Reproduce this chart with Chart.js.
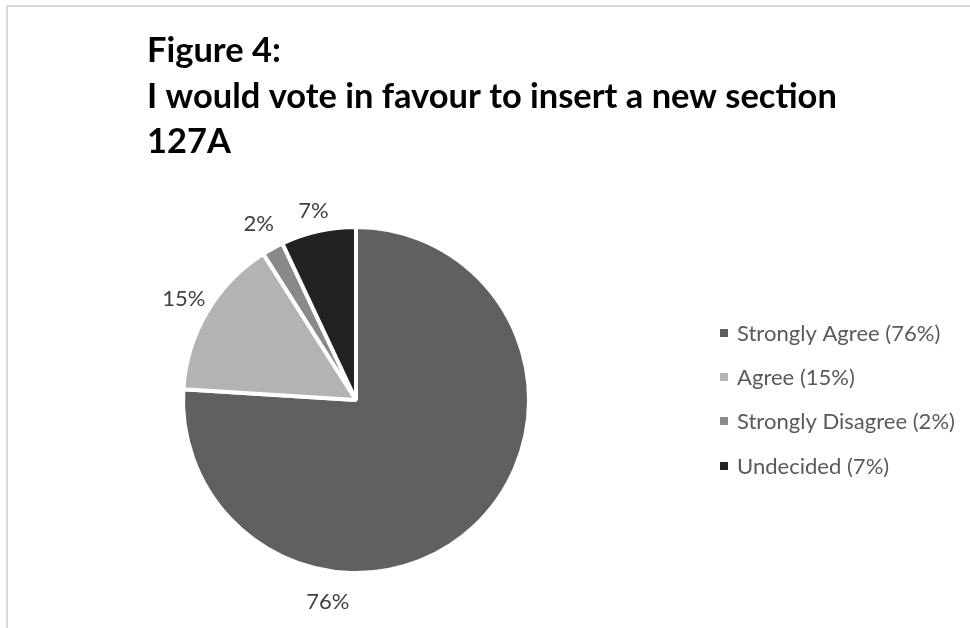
<!DOCTYPE html>
<html>
<head>
<meta charset="utf-8">
<script src="https://cdn.jsdelivr.net/npm/chart.js@4/dist/chart.umd.min.js"></script>
<style>
  html, body { margin:0; padding:0; background:#ffffff; overflow:hidden; }
  #frame { position:absolute; left:6px; top:5px; width:1100px; height:800px; border:2px solid #d9d9d9; box-sizing:border-box; }
  #wrap { position:absolute; left:0; top:0; width:970px; height:628px; }
</style>
</head>
<body>
<div id="frame"></div>
<div id="wrap"><canvas id="c" width="970" height="628"></canvas></div>
<script>
// ---- data ----
const titleLines = ['Figure 4:', 'I would vote in favour to insert a new section', '127A'];
const categories = ['Strongly Agree', 'Agree', 'Strongly Disagree', 'Undecided'];
const values = [76, 15, 2, 7];
const legendLabels = ['Strongly Agree (76%)', 'Agree (15%)', 'Strongly Disagree (2%)', 'Undecided (7%)'];
const sliceLabels = ['76%', '15%', '2%', '7%'];
const colors = ['#606060', '#b3b3b3', '#898989', '#222222'];

function fitSize(ctx, text, weight, family, target) {
  ctx.font = weight + ' 100px ' + family;
  const w = ctx.measureText(text).width;
  return 100 * target / w;
}

const FAMILY = 'Lato, "Open Sans", sans-serif';

const decorPlugin = {
  id: 'decor',
  afterDraw(chart) {
    const ctx = chart.ctx;
    ctx.save();
    // Title
    const tSize = fitSize(ctx, titleLines[1], 'bold', FAMILY, 690);
    ctx.font = 'bold ' + tSize.toFixed(2) + 'px ' + FAMILY;
    ctx.fillStyle = '#000000';
    ctx.textAlign = 'left';
    ctx.textBaseline = 'alphabetic';
    const tBase = [62, 108, 153];
    titleLines.forEach((t, i) => ctx.fillText(t, 147, tBase[i]));

    // Legend
    const lSize = fitSize(ctx, legendLabels[2], 'normal', FAMILY, 218);
    ctx.font = lSize.toFixed(2) + 'px ' + FAMILY;
    ctx.textBaseline = 'middle';
    const rowY = [333, 377, 421, 466];
    legendLabels.forEach((t, i) => {
      ctx.fillStyle = colors[i];
      ctx.fillRect(720, rowY[i] - 4, 8, 8);
      ctx.fillStyle = '#595959';
      ctx.fillText(t, 737, rowY[i] + 1);
    });

    // Slice labels
    const meta = chart.getDatasetMeta(0);
    ctx.font = lSize.toFixed(2) + 'px ' + FAMILY;
    ctx.fillStyle = '#404040';
    ctx.textAlign = 'center';
    ctx.textBaseline = 'middle';
    const extra = [30, 27, 29, 22];
    const angleOverride = {0: (188 - 90) * Math.PI / 180};
    meta.data.forEach((arc, i) => {
      const p = arc.getProps(['x', 'y', 'startAngle', 'endAngle', 'outerRadius'], true);
      let a = (p.startAngle + p.endAngle) / 2;
      if (angleOverride[i] !== undefined) a = angleOverride[i];
      const r = p.outerRadius + extra[i];
      ctx.fillText(sliceLabels[i], p.x + Math.cos(a) * r, p.y + Math.sin(a) * r + 1);
    });
    ctx.restore();
  }
};

new Chart(document.getElementById('c'), {
  type: 'pie',
  data: {
    labels: categories,
    datasets: [{
      data: values,
      backgroundColor: colors,
      borderColor: '#ffffff',
      borderWidth: 4,
      hoverOffset: 0
    }]
  },
  options: {
    responsive: false,
    animation: false,
    events: [],
    layout: { padding: { left: 181, top: 225, right: 439, bottom: 53 } },
    plugins: {
      legend: { display: false },
      title: { display: false },
      tooltip: { enabled: false }
    }
  },
  plugins: [decorPlugin]
});
</script>
</body>
</html>
